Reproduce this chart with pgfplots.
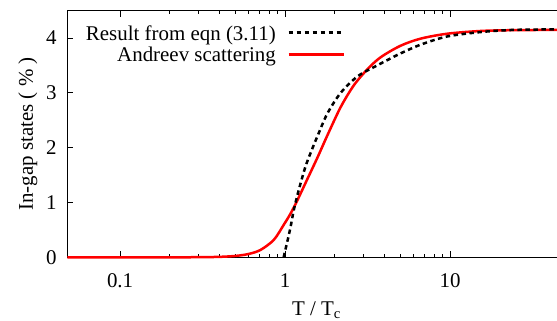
\documentclass[border=0pt]{standalone}
\usepackage{pgfplots}
\pgfplotsset{compat=1.18}
\usepackage{fontspec}
\setmainfont{Liberation Serif}
\newcommand{\fs}{\fontsize{21}{25}\selectfont}
\begin{document}
\begin{tikzpicture}
\useasboundingbox (0bp,0bp) rectangle (557bp,321bp);
\clip (0bp,0bp) rectangle (557bp,321bp);
\begin{axis}[
  at={(67.5bp,63.7bp)}, anchor=south west,
  scale only axis, width=498bp, height=246.6bp,
  xmode=log, xmin=0.048, xmax=50, ymin=0, ymax=4.5,
  xtick={0.1,1,10}, xticklabels={0.1,1,10},
  ytick={0,1,2,3,4},
  tick align=inside, major tick length=6bp, minor tick length=3bp,
  axis line style={line width=1.5bp},
  every tick/.style={black, line width=0.8bp},
  /pgf/number format/assume math mode=true,
  tick label style={font=\fs},
  xticklabel style={anchor=base, yshift=-29.7bp, inner sep=0pt},
  yticklabel style={anchor=east, inner sep=0pt, xshift=-10.8bp},
  label style={font=\fs},
  xlabel={T / T\textsubscript{c}},
  xlabel style={at={(axis description cs:0.5,0)}, anchor=base, yshift=-57.7bp, inner sep=0pt},
  ylabel={In-gap states ( \% )},
  ylabel style={at={(axis description cs:0,0.5)}, anchor=center, rotate=0, yshift=39.5bp, inner sep=0pt},
  clip=false,
  legend cell align=right,
  legend plot pos=right,
  legend style={draw=none, fill=none, at={(0.5572,0.946)}, anchor=north east,
    font=\fs, inner sep=0pt, column sep=10.5bp, row sep=0pt,
    nodes={inner sep=1bp, text height=15bp, text depth=4.7bp}},
  legend image code/.code={\draw[#1] (0bp,2.5bp) -- (55bp,2.5bp);},
]
\addlegendimage{black, line width=2.5bp, dash pattern=on 4.5bp off 3.5bp}
\addlegendentry{Result from eqn (3.11)}
\addplot[red, line width=2.5bp, smooth, tension=0.5] coordinates {
(0.048,0) (0.2,0) (0.3,0.002) (0.4,0.008) (0.5,0.025) (0.6,0.06)
(0.71,0.135) (0.855,0.32) (0.984,0.6) (1.08,0.8) (1.186,1.04)
(1.36,1.42) (1.57,1.82) (1.80,2.22) (2.17,2.74) (2.61,3.14)
(3.15,3.43) (3.79,3.65) (5.0,3.86) (6.62,3.99) (9.6,4.08)
(15.3,4.13) (24.4,4.145) (50,4.15)
};
\addlegendentry{Andreev scattering}
\addplot[black, line width=2.5bp, dash pattern=on 4.5bp off 3.5bp, forget plot, smooth, tension=0.5] coordinates {
(0.98,0) (1.0,0.12) (1.03,0.28) (1.08,0.56) (1.13,0.87) (1.21,1.23)
(1.33,1.66) (1.46,1.98) (1.57,2.21) (1.80,2.62) (2.17,3.0)
(2.74,3.30) (3.45,3.47) (4.36,3.63) (5.0,3.72) (6.62,3.88)
(9.6,4.03) (15.3,4.11) (24.4,4.15) (50,4.16)
};
\end{axis}
\end{tikzpicture}
\end{document}
